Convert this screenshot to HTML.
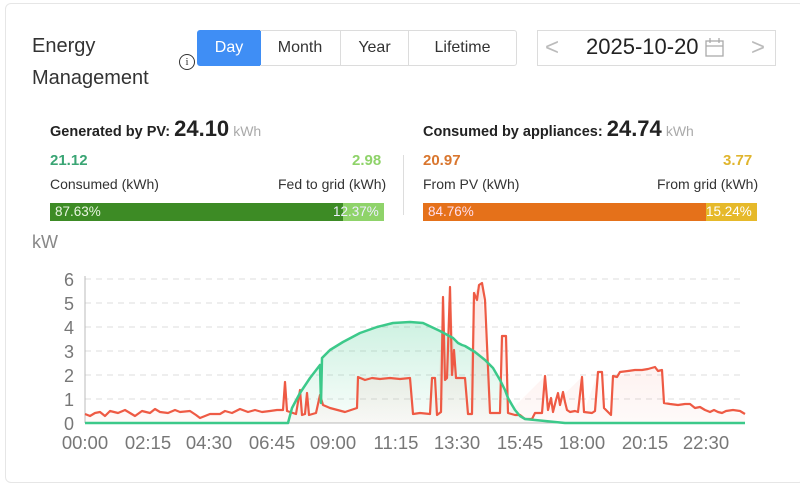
<!DOCTYPE html>
<html><head><meta charset="utf-8"><style>
*{margin:0;padding:0;box-sizing:border-box}
body{width:800px;height:471px;background:#fff;font-family:"Liberation Sans",Arial,sans-serif;position:relative;overflow:hidden}
.card{position:absolute;left:5px;top:3px;width:800px;height:480px;border:1px solid #e6e6e6;border-radius:6px}
.a{position:absolute;white-space:nowrap}
.btn{position:absolute;top:30px;height:36px;border:1px solid #dcdcdc;font-size:16px;color:#333;text-align:center;line-height:34px}
</style></head><body>
<div class="card"></div>
<div class="a" style="left:32px;top:30px;font-size:20px;color:#333;line-height:32px">Energy<br>Management</div>
<div class="a" style="left:179px;top:54px;width:16px;height:16px;border:1.3px solid #333;border-radius:50%;font-size:11px;line-height:14px;text-align:center;font-family:'Liberation Serif',serif;color:#333">i</div>
<div class="btn" style="left:197px;width:64px;background:#3f8ef5;border-color:#3f8ef5;color:#fff;border-radius:3px 0 0 3px">Day</div>
<div class="btn" style="left:260px;width:81px;border-left:none">Month</div>
<div class="btn" style="left:340px;width:69px;border-left:1px solid #dcdcdc">Year</div>
<div class="btn" style="left:408px;width:109px;border-radius:0 3px 3px 0">Lifetime</div>
<div class="btn" style="left:537px;width:239px"></div>
<div class="a" style="left:545px;top:34px;font-size:24px;color:#bbb">&lt;</div>
<div class="a" style="left:751px;top:34px;font-size:24px;color:#bbb">&gt;</div>
<div class="a" style="left:586px;top:34px;font-size:22px;color:#222">2025-10-20</div>
<svg class="a" style="left:705px;top:38px" width="20" height="20"><rect x="1" y="3" width="17" height="15" fill="none" stroke="#aaa" stroke-width="1.3"/><line x1="1" y1="8" x2="18" y2="8" stroke="#aaa" stroke-width="1.3"/><line x1="5" y1="0" x2="5" y2="5" stroke="#aaa" stroke-width="1.3"/><line x1="14" y1="0" x2="14" y2="5" stroke="#aaa" stroke-width="1.3"/></svg>

<div class="a" style="left:50px;top:116px;font-size:14.5px;font-weight:bold;color:#222">Generated by PV: <span style="font-size:22px">24.10</span> <span style="font-weight:normal;color:#aaa;font-size:14px">kWh</span></div>
<div class="a" style="left:50px;top:152px;font-size:15px;font-weight:bold;color:#3aa574">21.12</div>
<div class="a" style="left:352px;top:152px;font-size:15px;font-weight:bold;color:#8fd36a">2.98</div>
<div class="a" style="left:50px;top:176px;font-size:14px;color:#333">Consumed (kWh)</div>
<div class="a" style="left:278px;top:176px;font-size:14px;color:#333">Fed to grid (kWh)</div>
<div class="a" style="left:50px;top:203px;width:293px;height:18px;background:#3d8b25"></div>
<div class="a" style="left:343px;top:203px;width:41px;height:18px;background:#8fd36a"></div>
<div class="a" style="left:55px;top:204px;font-size:13.5px;color:#e8f5e0">87.63%</div>
<div class="a" style="left:333px;top:204px;font-size:13.5px;color:#eef">12.37%</div>
<div class="a" style="left:403px;top:155px;width:1px;height:60px;background:#ddd"></div>

<div class="a" style="left:423px;top:116px;font-size:14.5px;font-weight:bold;color:#222">Consumed by appliances: <span style="font-size:22px">24.74</span> <span style="font-weight:normal;color:#aaa;font-size:14px">kWh</span></div>
<div class="a" style="left:423px;top:152px;font-size:15px;font-weight:bold;color:#d9762e">20.97</div>
<div class="a" style="left:723px;top:152px;font-size:15px;font-weight:bold;color:#e0b52e">3.77</div>
<div class="a" style="left:423px;top:176px;font-size:14px;color:#333">From PV (kWh)</div>
<div class="a" style="left:657px;top:176px;font-size:14px;color:#333">From grid (kWh)</div>
<div class="a" style="left:423px;top:203px;width:283px;height:18px;background:#e5711a"></div>
<div class="a" style="left:706px;top:203px;width:51px;height:18px;background:#e6b92a"></div>
<div class="a" style="left:428px;top:204px;font-size:13.5px;color:#fde">84.76%</div>
<div class="a" style="left:706px;top:204px;font-size:13.5px;color:#fff">15.24%</div>

<div class="a" style="left:32px;top:232px;font-size:18px;color:#888">kW</div>
<svg class="a" style="left:0;top:0" width="800" height="471">
<defs>
<linearGradient id="g" x1="0" y1="0" x2="0" y2="1"><stop offset="0" stop-color="#3cc98a" stop-opacity="0.25"/><stop offset="1" stop-color="#3cc98a" stop-opacity="0.03"/></linearGradient>
<linearGradient id="r" x1="0" y1="0" x2="0" y2="1"><stop offset="0" stop-color="#ee5a44" stop-opacity="0.15"/><stop offset="1" stop-color="#ee5a44" stop-opacity="0.03"/></linearGradient>
</defs>
<g stroke="#ddd" stroke-dasharray="6,5" stroke-width="1">
<line x1="85" y1="279" x2="745" y2="279"/><line x1="85" y1="303" x2="745" y2="303"/><line x1="85" y1="327" x2="745" y2="327"/><line x1="85" y1="351" x2="745" y2="351"/><line x1="85" y1="375" x2="745" y2="375"/><line x1="85" y1="399" x2="745" y2="399"/>
</g>
<line x1="85" y1="276" x2="85" y2="423" stroke="#bbb"/>
<line x1="85" y1="423" x2="745" y2="423" stroke="#bbb"/>
<g font-size="18" fill="#777" text-anchor="end">
<text x="74" y="286">6</text><text x="74" y="310">5</text><text x="74" y="334">4</text><text x="74" y="358">3</text><text x="74" y="382">2</text><text x="74" y="406">1</text><text x="74" y="430">0</text>
</g>
<g font-size="18.5" fill="#777" text-anchor="middle">
<text x="85" y="449">00:00</text><text x="148" y="449">02:15</text><text x="209" y="449">04:30</text><text x="272" y="449">06:45</text><text x="333" y="449">09:00</text><text x="396" y="449">11:15</text><text x="457" y="449">13:30</text><text x="520" y="449">15:45</text><text x="582" y="449">18:00</text><text x="645" y="449">20:15</text><text x="706" y="449">22:30</text>
</g>
<path d="M85,423 L288,423 L292,408 L300,393 L310,378 L320,365 L321,403 L322,358 L330,350 L343,342 L360,333 L377,327 L393,323 L410,322 L423,323 L440,331 L453,338 L465,346 L485,360 L500,380 L508,398 L515,410 L525,419 L545,421 L565,423 L745,423 Z" fill="url(#g)"/>
<path d="M85,414 L90,416 L95,413 L100,412 L105,416 L110,411 L118,413 L125,410 L130,413 L135,416 L142,411 L150,413 L155,409 L160,412 L168,413 L175,410 L180,412 L190,411 L196,415 L200,418 L210,414 L220,414 L225,411 L232,413 L240,409 L248,412 L255,410 L262,412 L270,411 L277,410 L283,410 L285,382 L287,411 L296,414 L300,390 L302,415 L305,414 L307,393 L309,415 L316,413 L320,395 L323,405 L330,408 L345,412 L357,408 L358,377 L410,378 L413,414 L430,414 L432,378 L437,415 L443,297 L447,378 L450,287 L456,378 L465,378 L468,414 L474,293 L482,283 L490,413 L500,413 L502,336 L506,336 L508,413 L545,376 L548,410 L582,377 L584,412 L598,372 L604,408 L611,415 L613,376 L655,367 L662,370 L664,403 L745,414 L745,423 L85,423 Z" fill="url(#r)"/>
<path d="M85,414 L90,416 L95,413 L100,412 L105,416 L110,411 L118,413 L125,410 L130,413 L135,416 L142,411 L150,413 L155,409 L160,412 L168,413 L175,410 L180,412 L190,411 L196,415 L200,418 L210,414 L220,414 L225,411 L232,413 L240,409 L248,412 L255,410 L262,412 L270,411 L277,410 L283,410 L285,382 L287,411 L296,414 L300,390 L302,415 L305,414 L307,393 L309,415 L316,413 L320,395 L323,405 L330,408 L345,412 L357,408 L358,377 L365,380 L372,378 L380,379 L390,378 L400,379 L410,378 L413,414 L420,413 L430,414 L432,378 L435,378 L437,415 L441,412 L443,297 L445,380 L447,378 L450,287 L452,375 L454,350 L456,378 L465,378 L468,414 L472,414 L474,293 L477,300 L479,285 L482,283 L485,300 L490,413 L500,413 L502,336 L506,336 L508,413 L515,415 L520,415 L525,419 L532,419 L535,413 L542,413 L545,376 L548,410 L551,398 L553,412 L556,400 L558,393 L560,405 L563,392 L565,402 L567,410 L570,412 L575,411 L578,412 L582,377 L584,412 L592,413 L595,411 L598,372 L602,372 L604,408 L611,415 L613,376 L617,377 L620,372 L628,371 L635,370 L642,370 L648,369 L655,367 L658,371 L662,370 L664,403 L670,404 L678,405 L685,404 L690,404 L695,408 L700,407 L705,410 L710,412 L714,410 L718,412 L722,413 L726,411 L733,410 L740,411 L745,414" fill="none" stroke="#ee5a44" stroke-width="2.2" stroke-linejoin="round"/>
<path d="M85,423 L288,423 L292,408 L300,393 L310,378 L320,365 L321,403 L322,358 L330,350 L343,342 L360,333 L377,327 L393,323 L410,322 L423,323 L440,331 L453,338 L458,343 L462,345 L465,346 L475,352 L485,360 L493,368 L500,380 L505,390 L508,398 L512,405 L515,410 L520,416 L525,419 L545,421 L565,423 L745,423" fill="none" stroke="#3cc98a" stroke-width="2.5" stroke-linejoin="round"/>
</svg>
</body></html>
